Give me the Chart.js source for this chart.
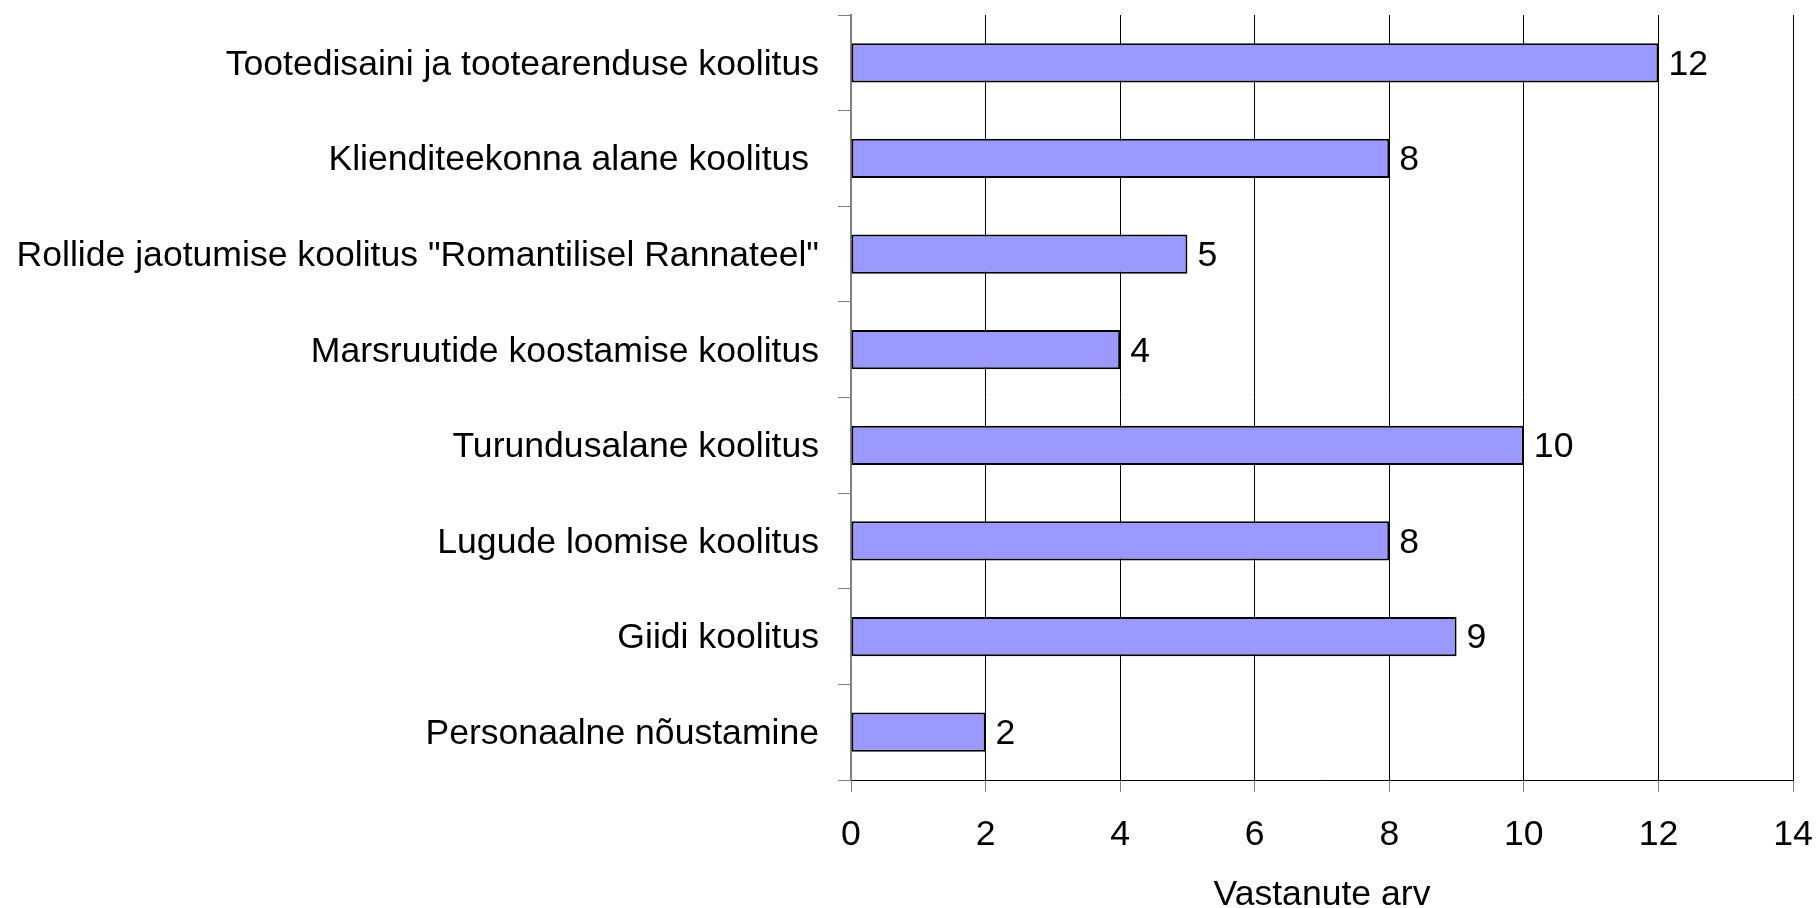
<!DOCTYPE html>
<html>
<head>
<meta charset="utf-8">
<script src="https://cdn.jsdelivr.net/npm/chart.js@4/dist/chart.umd.min.js"></script>
<style>
  html, body { margin: 0; padding: 0; background: #fff; }
  #wrap { width: 1818px; height: 908px; }
</style>
</head>
<body>
<div id="wrap"><canvas id="c" width="1818" height="908"></canvas></div>
<script>
const categories = [
  'Tootedisaini ja tootearenduse koolitus',
  'Klienditeekonna alane koolitus ',
  'Rollide jaotumise koolitus "Romantilisel Rannateel"',
  'Marsruutide koostamise koolitus',
  'Turundusalane koolitus',
  'Lugude loomise koolitus',
  'Giidi koolitus',
  'Personaalne nõustamine'
];
const counts = [12, 8, 5, 4, 10, 8, 9, 2];
const xTicks = [0, 2, 4, 6, 8, 10, 12, 14];
const xTitle = 'Vastanute arv';

const FONT = 'Liberation Sans, Arial, Helvetica, sans-serif';
const FS = 35.6;

const valueLabels = {
  id: 'valueLabels',
  afterDatasetsDraw(chart) {
    const ctx = chart.ctx;
    const meta = chart.getDatasetMeta(0);
    ctx.save();
    ctx.font = FS + 'px ' + FONT;
    ctx.fillStyle = '#000';
    ctx.textAlign = 'left';
    ctx.textBaseline = 'middle';
    meta.data.forEach((bar, i) => {
      ctx.fillText(String(counts[i]), bar.x + 10, bar.y + 2);
    });
    ctx.restore();
  }
};

new Chart(document.getElementById('c'), {
  type: 'bar',
  data: {
    labels: categories,
    datasets: [{
      data: counts,
      backgroundColor: '#9999FF',
      borderColor: '#000000',
      borderWidth: 2,
      borderSkipped: false,
      barPercentage: 0.41,
      categoryPercentage: 1.0
    }]
  },
  options: {
    indexAxis: 'y',
    responsive: false,
    animation: false,
    devicePixelRatio: 1,
    layout: { padding: { top: 15, right: 25, bottom: 0, left: 0 } },
    plugins: {
      legend: { display: false },
      tooltip: { enabled: false }
    },
    scales: {
      x: {
        type: 'linear',
        min: 0,
        max: 14,
        afterBuildTicks(scale) { scale.ticks = xTicks.map(v => ({ value: v })); },
        afterFit(scale) { scale.height = 128; scale.paddingLeft = 0; scale.paddingRight = 0; },
        grid: {
          color: '#000',
          lineWidth: 1,
          tickColor: '#808080',
          tickLength: 12,
          drawOnChartArea: true
        },
        border: { display: true, color: '#000', width: 1 },
        ticks: {
          color: '#000',
          font: { family: FONT, size: FS },
          padding: 22,
          maxRotation: 0
        },
        title: {
          display: true,
          text: xTitle,
          color: '#000',
          font: { family: FONT, size: FS },
          padding: { top: 0, bottom: -9 }
        }
      },
      y: {
        afterFit(scale) { scale.width = 851; scale.paddingTop = 0; scale.paddingBottom = 0; },
        grid: {
          offset: true,
          drawOnChartArea: false,
          drawTicks: true,
          tickLength: 13,
          tickColor: '#808080'
        },
        border: { display: true, color: '#808080', width: 2 },
        ticks: {
          color: '#000',
          font: { family: FONT, size: FS },
          padding: 19,
          labelOffset: 2,
          autoSkip: false
        }
      }
    }
  },
  plugins: [valueLabels]
});
</script>
</body>
</html>
